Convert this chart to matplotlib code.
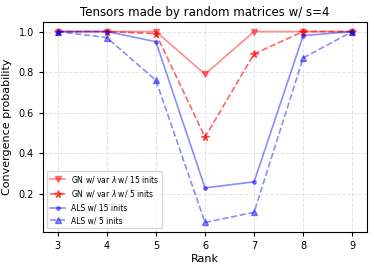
import numpy as np
import matplotlib
matplotlib.use("Agg")
import matplotlib.pyplot as plt

ranks = [3, 4, 5, 6, 7, 8, 9]
gn_15 = [1.0, 1.0, 1.0, 0.79, 1.0, 1.0, 1.0]
gn_5 = [1.0, 1.0, 0.99, 0.48, 0.89, 1.0, 1.0]
als_15 = [1.0, 1.0, 0.95, 0.23, 0.26, 0.98, 1.0]
als_5 = [1.0, 0.97, 0.76, 0.06, 0.11, 0.87, 1.0]

fig = plt.figure(figsize=(3.74, 2.69), dpi=100)
ax = fig.add_axes([43/374, 1-232/269, (367-43)/374, (232-22)/269])

lw = 1.2
ax.plot(ranks, gn_15, linestyle='-', marker='v', color='red', alpha=0.45, lw=lw, markersize=5, label=r'GN w/ var $\lambda$ w/ 15 inits')
ax.plot(ranks, gn_5, linestyle='--', marker='*', color='red', alpha=0.6, lw=lw, markersize=5.5, label=r'GN w/ var $\lambda$ w/ 5 inits')
ax.plot(ranks, als_15, linestyle='-', marker='.', color='blue', alpha=0.45, lw=lw, markersize=5, label='ALS w/ 15 inits')
ax.plot(ranks, als_5, linestyle='--', marker='^', color='blue', alpha=0.45, lw=lw, markersize=5, label='ALS w/ 5 inits')

ax.grid(True, linestyle='--', color='#e4e4e4', linewidth=0.7)
ax.set_xticks(ranks)
ax.set_yticks([0.2, 0.4, 0.6, 0.8, 1.0])
ax.tick_params(labelsize=7, length=3)
ax.set_xlabel('Rank', fontsize=8, labelpad=2)
ax.set_ylabel('Convergence probability', fontsize=8, labelpad=5)
ax.set_title('Tensors made by random matrices w/ s=4', fontsize=8.5, pad=4)
ax.legend(loc='lower left', fontsize=5.5, framealpha=0.8)

fig.savefig('out.png', dpi=100)
